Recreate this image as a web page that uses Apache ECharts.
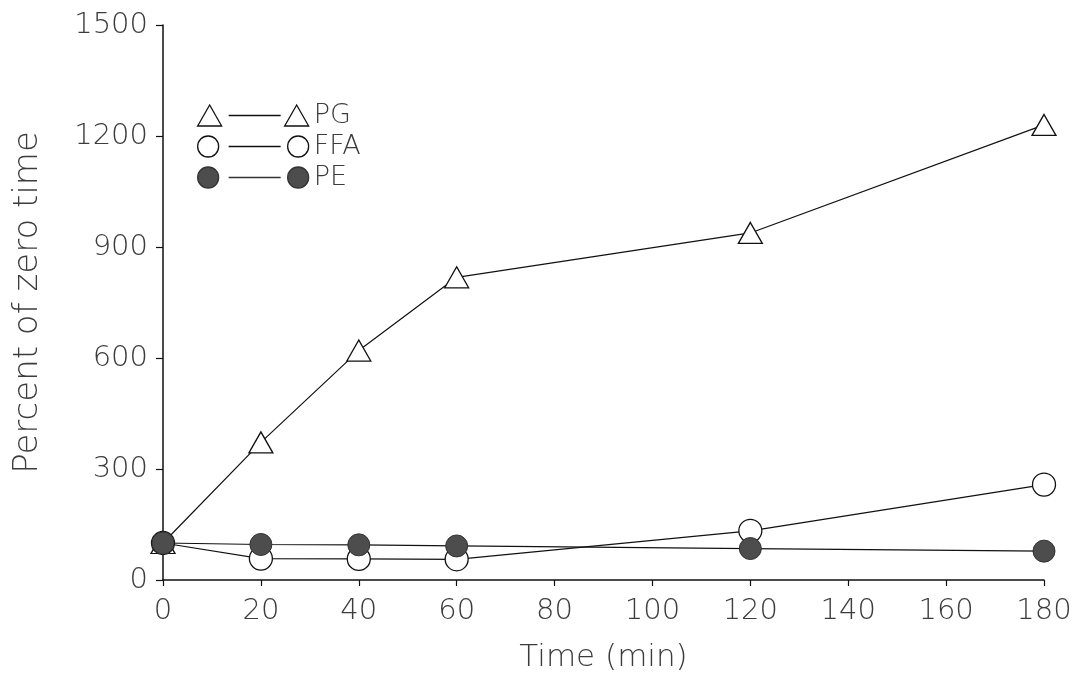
<!DOCTYPE html>
<html>
<head>
<meta charset="utf-8">
<script src="https://cdn.jsdelivr.net/npm/echarts@6/dist/echarts.min.js"></script>
<style>html,body{margin:0;padding:0;background:#fff;}#c{width:1080px;height:683px;}</style>
</head>
<body>
<div id="c"></div>
<script>
var times = [0, 20, 40, 60, 120, 180];
var pgValues = [100, 372, 620, 818, 938, 1230];
var ffaValues = [100, 58, 57, 56, 133, 258];
var peValues = [100, 96, 95, 92, 85, 78];
var seriesNames = ['PG', 'FFA', 'PE'];
var xTicks = [0, 20, 40, 60, 80, 100, 120, 140, 160, 180];
var yTicks = [0, 300, 600, 900, 1200, 1500];

function pairs(vals) { return times.map(function (t, i) { return [t, vals[i]]; }); }

var font = 'DejaVu Sans';
var textColor = '#3c3c3c';
var fw = 200;
var triIcon = 'path://M0,21 L12,0 L24,21 Z M31,10.5 L83,10.5 M87,21 L99,0 L111,21 Z';
var circIcon = 'path://M0,10.5 A10.5,10.5 0 1,1 21,10.5 A10.5,10.5 0 1,1 0,10.5 Z M31,10.5 L83,10.5 M90,10.5 A10.5,10.5 0 1,1 111,10.5 A10.5,10.5 0 1,1 90,10.5 Z';

var chart = echarts.init(document.getElementById('c'));
chart.setOption({
  animation: false,
  backgroundColor: '#fff',
  grid: { left: 163, top: 25, right: 36, bottom: 103, containLabel: false },
  legend: {
    orient: 'vertical', left: 192, top: 97, itemWidth: 111, itemHeight: 21, itemGap: 4,
    selectedMode: false,
    textStyle: { fontFamily: font, fontWeight: fw, fontSize: 27, color: textColor },
    data: [
      { name: 'PG', icon: triIcon, itemStyle: { color: '#fff', borderColor: '#111', borderWidth: 1.3 } },
      { name: 'FFA', icon: circIcon, itemStyle: { color: '#fff', borderColor: '#111', borderWidth: 1.3 } },
      { name: 'PE', icon: circIcon, itemStyle: { color: '#4d4d4d', borderColor: '#333', borderWidth: 1.3 } }
    ]
  },
  xAxis: {
    type: 'value', min: 0, max: 180, interval: 20,
    name: 'Time (min)', nameLocation: 'middle', nameGap: 62,
    nameTextStyle: { fontFamily: font, fontWeight: fw, fontSize: 31, color: textColor },
    axisLine: { show: true, lineStyle: { color: '#111', width: 1.5 } },
    axisTick: { show: true, length: 6, lineStyle: { color: '#111', width: 1.2 } },
    axisLabel: { fontFamily: font, fontWeight: fw, fontSize: 29, color: textColor, margin: 17,
      formatter: function (v) { return xTicks.indexOf(v) >= 0 ? String(v) : ''; } },
    splitLine: { show: false }
  },
  yAxis: {
    type: 'value', min: 0, max: 1500, interval: 300,
    name: 'Percent of zero time', nameLocation: 'middle', nameGap: 118,
    nameTextStyle: { fontFamily: font, fontWeight: fw, fontSize: 34, color: textColor },
    axisLine: { show: true, lineStyle: { color: '#111', width: 1.5 } },
    axisTick: { show: true, length: 7, lineStyle: { color: '#111', width: 1.2 } },
    axisLabel: { fontFamily: font, fontWeight: fw, fontSize: 29, color: textColor, margin: 15,
      formatter: function (v) { return yTicks.indexOf(v) >= 0 ? String(v) : ''; } },
    splitLine: { show: false }
  },
  series: [
    { name: seriesNames[0], type: 'line', data: pairs(pgValues), symbol: 'triangle', symbolSize: [24, 21],
      showAllSymbol: true,
      lineStyle: { color: '#111', width: 1.2 },
      itemStyle: { color: '#fff', borderColor: '#111', borderWidth: 1.3 } },
    { name: seriesNames[1], type: 'line', data: pairs(ffaValues), symbol: 'circle', symbolSize: 23,
      showAllSymbol: true,
      lineStyle: { color: '#111', width: 1.2 },
      itemStyle: { color: '#fff', borderColor: '#111', borderWidth: 1.3 } },
    { name: seriesNames[2], type: 'line', data: pairs(peValues), symbol: 'circle', symbolSize: 22,
      showAllSymbol: true,
      lineStyle: { color: '#111', width: 1.2 },
      itemStyle: { color: '#4d4d4d', borderColor: '#333', borderWidth: 1 } }
  ]
});
</script>
</body>
</html>
